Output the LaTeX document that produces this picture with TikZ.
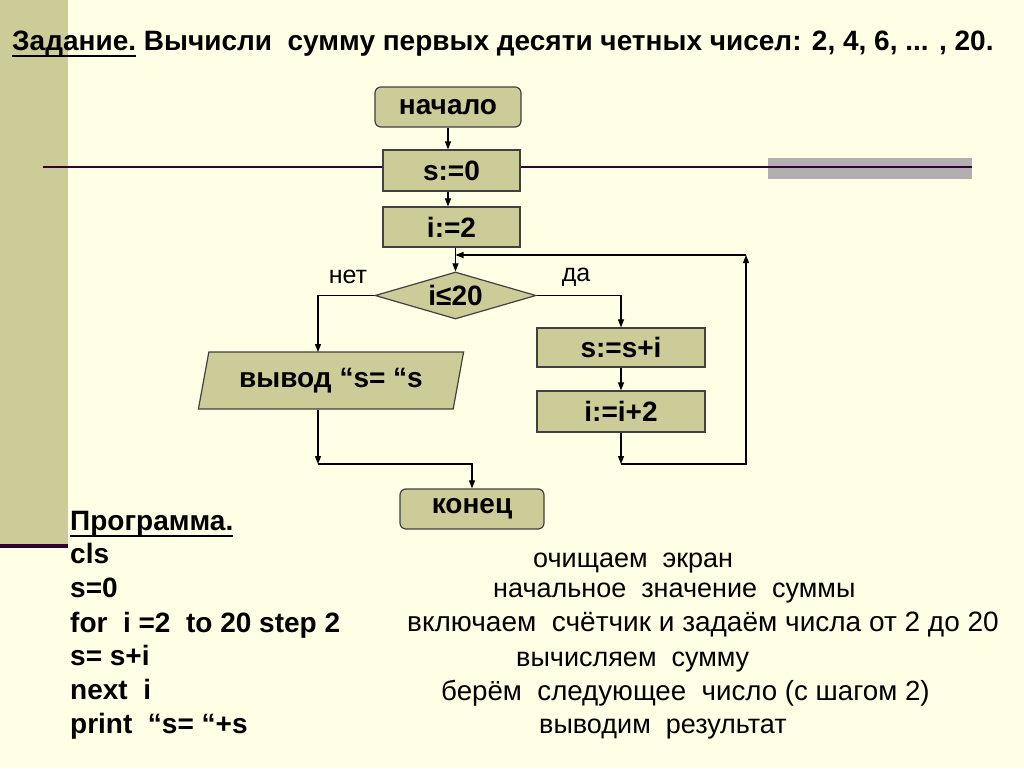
\documentclass[tikz,border=0pt]{standalone}
\usepackage{fontspec}
\setmainfont{Liberation Sans}
\usetikzlibrary{shapes.geometric,arrows.meta}
\definecolor{bgcol}{HTML}{FFFFE5}
\definecolor{olive}{HTML}{CCCC99}
\definecolor{boxfill}{HTML}{CCCC99}
\definecolor{plum}{HTML}{330033}
\definecolor{bargray}{HTML}{B2AFB0}
\newcommand{\ulbold}[1]{\setbox0\hbox{#1}\leavevmode\rlap{\rule[-7pt]{\wd0}{1.8pt}}\box0\relax}

\begin{document}
\begin{tikzpicture}[x=1pt,y=-1pt,
  blk/.style={draw=black!75,fill=boxfill,line width=1.2pt,inner sep=0pt,font=\fontsize{28}{30}\selectfont\bfseries},
  term/.style={blk,rounded corners=6pt},
  arr/.style={line width=1.1pt,-{Triangle[length=8pt,width=6pt]}},
  lab/.style={font=\fontsize{25}{28}\selectfont},
  prog/.style={anchor=base west,inner sep=0pt,font=\fontsize{28}{32}\selectfont\bfseries},
  note/.style={anchor=base west,inner sep=0pt,font=\fontsize{27}{32}\selectfont}]
\useasboundingbox (0,0) rectangle (1024,768);
% slide background
\fill[bgcol] (0,0) rectangle (1024,768);
\fill[olive] (0,0) rectangle (68,545);
\fill[plum] (0,544) rectangle (68,548);
\fill[bargray] (768,158) rectangle (972,179);
\draw[plum,line width=1.5pt] (43,167) -- (972,167);

\node[anchor=base west,inner sep=0pt,font=\fontsize{28}{30}\selectfont\bfseries](title) at (12,50){\ulbold{Задание.} Вычисли\ \ сумму первых десяти четных чисел: 2, 4, 6, ... , 20.};

% flowchart
\node[term,minimum width=146,minimum height=40](start) at (448,107){начало};
\node[blk,minimum width=137,minimum height=41](s0) at (451.5,170.5){s:=0};
\node[blk,minimum width=137,minimum height=40](i2) at (451.5,227){i:=2};
\node[blk,shape=diamond,aspect=3.4,minimum width=161,minimum height=47](cond) at (455.5,295.5){i≤20};
\node[blk,shape=trapezium,trapezium stretches=true,trapezium left angle=72.5,trapezium right angle=107.5,minimum width=266,minimum height=57](out) at (331,380.5){вывод “s=\ “s};
\node[blk,minimum width=168,minimum height=39](ssi) at (621,347.5){s:=s+i};
\node[blk,minimum width=168,minimum height=41](ii2) at (621,411.5){i:=i+2};
\node[term,minimum width=144,minimum height=40](end) at (472,509){конец};
\node[lab](no) at (348,277){нет};
\node[lab](yes) at (576,277){да};

\coordinate(nl) at (318,352);
\coordinate(c1) at (621,464);
\coordinate(c3) at (746,255);
\coordinate(c4) at (455.5,255);
\coordinate(c5) at (318,464);

\draw[arr](start)--(start|-s0.north);
\draw[arr](s0.south-|start)--(start|-i2.north);
\draw[arr](i2.south-|cond)--(cond);
\draw[arr](cond.east)-|(ssi.north);
\draw[arr](cond.west)-|(nl);
\draw[arr](ssi)--(ii2);
\draw[arr](ii2)--(c1);
\draw[arr](c1)-|(c3);
\draw[arr](c3)--(c4);
\draw[arr](out.south-|nl)--(c5);
\draw[arr](c5)-|(end.north);

% program text
\node[prog](ph) at (70,530){\ulbold{Программа.}};
\node[prog](p1) at (70,563){cls};
\node[prog](p2) at (70,597){s=0};
\node[prog](p3) at (70,632){for\ \ i =2\ \ to 20 step 2};
\node[prog](p4) at (70,665){s= s+i};
\node[prog](p5) at (70,699){next\ \ i};
\node[prog](p6) at (70,733){print\ \ “s= “+s};

\node[note](n1) at (533,567){очищаем\ \ экран};
\node[note](n2) at (493,597){начальное\ \ значение\ \ суммы};
\node[note,font=\fontsize{28}{32}\selectfont](n3) at (407,631){включаем\ \ счётчик и задаём числа от 2 до 20};
\node[note,font=\fontsize{27.7}{32}\selectfont](n5) at (441,700){берём\ \ следующее\ \ число (с шагом 2)};
\node[note](n4) at (516,666){вычисляем\ \ сумму};
\node[note](n6) at (539,733){выводим\ \ результат};
\end{tikzpicture}
\end{document}
